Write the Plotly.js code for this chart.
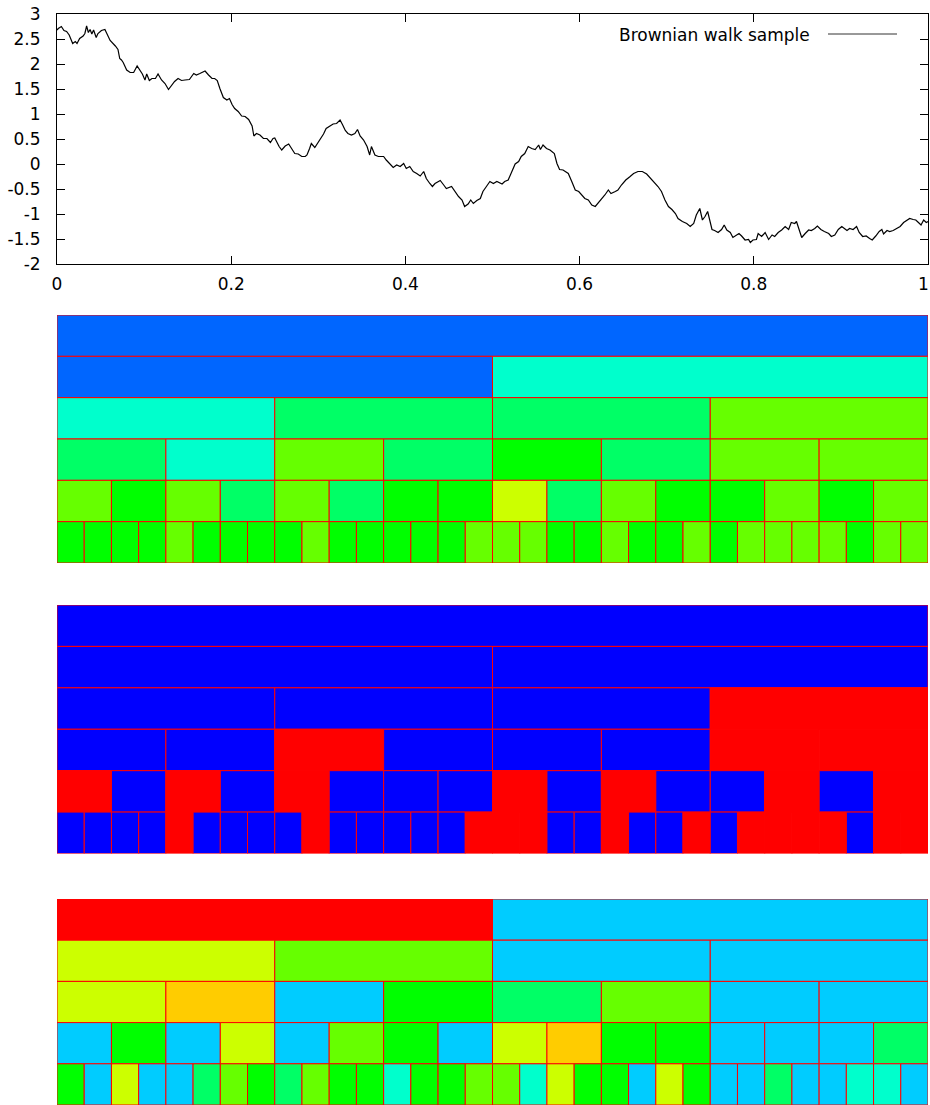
<!DOCTYPE html>
<html>
<head>
<meta charset="utf-8">
<script src="https://cdn.plot.ly/plotly-3.0.1.min.js"></script>
<style>html,body{margin:0;padding:0;background:#fff;}#chart{width:930px;height:1105px;}</style>
</head>
<body>
<div id="chart"></div>
<script>
// ---- Brownian walk sample ----
const walkX = [0.000,0.0015,0.005,0.008,0.011,0.014,0.018,0.021,0.023,0.026,0.030,0.032,0.034,0.036,0.038,0.040,0.042,0.045,0.047,0.051,0.055,0.058,0.061,0.067,0.070,0.072,0.074,0.076,0.080,0.084,0.088,0.092,0.095,0.098,0.101,0.103,0.106,0.109,0.113,0.116,0.120,0.124,0.128,0.132,0.135,0.139,0.143,0.147,0.152,0.157,0.160,0.164,0.170,0.174,0.178,0.181,0.184,0.187,0.191,0.195,0.198,0.201,0.204,0.208,0.212,0.216,0.220,0.224,0.226,0.229,0.233,0.237,0.241,0.245,0.248,0.250,0.252,0.255,
0.258,0.262,0.266,0.269,0.273,0.277,0.281,0.285,0.287,0.290,0.292,0.296,0.299,0.302,0.306,0.309,0.313,0.317,0.321,0.325,0.328,0.331,0.334,0.338,0.342,0.345,0.348,0.352,0.356,0.359,0.361,0.365,0.369,0.375,0.378,0.382,0.386,0.390,0.394,0.398,0.401,0.405,0.409,0.413,0.417,0.421,0.424,0.428,0.431,0.434,0.440,0.444,0.447,0.453,0.457,0.461,0.465,0.468,0.472,0.475,0.478,0.482,0.486,0.489,0.493,0.497,0.501,
0.505,0.511,0.514,0.518,0.522,0.526,0.530,0.533,0.537,0.541,0.545,0.549,0.553,0.555,0.558,0.562,0.566,0.571,0.574,0.577,0.581,0.587,0.591,0.595,0.599,0.602,0.606,0.610,0.614,0.618,0.621,0.625,0.629,0.633,0.636,0.641,0.644,0.648,0.653,0.658,0.662,0.667,0.672,0.677,0.682,0.687,0.690,0.694,0.698,0.702,0.706,0.710,0.713,0.718,0.723,0.727,0.731,0.734,
0.738,0.741,0.744,0.747,0.750,0.752,0.755,0.759,0.763,0.766,0.769,0.773,0.776,0.780,0.783,0.786,0.790,0.794,0.796,0.799,0.803,0.805,0.809,0.813,0.817,0.821,0.824,0.828,0.832,0.836,0.840,0.843,0.847,0.849,0.852,0.855,0.859,0.863,0.866,0.870,0.873,0.877,0.881,0.886,0.889,0.893,0.897,0.901,0.904,0.907,0.910,0.914,0.918,0.921,0.925,0.929,0.933,0.936,0.940,0.944,0.947,0.949,0.953,0.956,0.960,0.964,0.968,0.972,0.976,0.979,0.983,0.986,0.989,0.992,0.995,0.998,1.000];
const walkY = [2.68,2.71,2.75,2.67,2.65,2.58,2.41,2.45,2.41,2.51,2.56,2.61,2.76,2.63,2.69,2.60,2.68,2.53,2.61,2.67,2.69,2.58,2.47,2.36,2.29,2.11,2.08,2.03,1.88,1.83,1.83,1.96,1.88,1.80,1.68,1.80,1.67,1.71,1.71,1.80,1.68,1.61,1.49,1.58,1.65,1.71,1.67,1.68,1.69,1.81,1.78,1.81,1.86,1.78,1.71,1.71,1.67,1.51,1.33,1.28,1.31,1.19,1.11,1.05,0.96,0.95,0.89,0.76,0.56,0.61,0.58,0.51,0.51,0.43,0.51,0.52,0.45,0.35,
0.28,0.36,0.40,0.31,0.21,0.20,0.15,0.15,0.18,0.31,0.41,0.33,0.41,0.51,0.60,0.71,0.75,0.80,0.81,0.88,0.78,0.67,0.61,0.58,0.61,0.69,0.56,0.48,0.35,0.18,0.35,0.18,0.15,0.15,0.08,0.01,-0.07,-0.02,-0.05,0.01,-0.09,-0.05,-0.15,-0.19,-0.24,-0.15,-0.29,-0.39,-0.45,-0.39,-0.33,-0.42,-0.49,-0.45,-0.55,-0.65,-0.72,-0.85,-0.80,-0.72,-0.79,-0.73,-0.69,-0.55,-0.45,-0.35,-0.39,
-0.35,-0.40,-0.35,-0.32,-0.15,0.00,0.05,0.15,0.21,0.35,0.31,0.29,0.38,0.29,0.38,0.31,0.28,0.21,0.01,-0.11,-0.12,-0.19,-0.35,-0.52,-0.55,-0.62,-0.69,-0.72,-0.82,-0.85,-0.79,-0.72,-0.62,-0.52,-0.59,-0.55,-0.52,-0.42,-0.32,-0.25,-0.19,-0.15,-0.15,-0.20,-0.29,-0.39,-0.45,-0.55,-0.72,-0.85,-0.91,-0.99,-1.09,-1.15,-1.19,-1.25,-1.19,-1.02,
-0.89,-1.12,-1.05,-0.95,-1.19,-1.31,-1.33,-1.37,-1.31,-1.22,-1.32,-1.37,-1.47,-1.42,-1.39,-1.44,-1.52,-1.51,-1.57,-1.52,-1.51,-1.39,-1.45,-1.37,-1.51,-1.42,-1.45,-1.37,-1.32,-1.25,-1.31,-1.17,-1.19,-1.15,-1.31,-1.47,-1.39,-1.32,-1.33,-1.29,-1.24,-1.31,-1.35,-1.39,-1.45,-1.42,-1.31,-1.25,-1.29,-1.33,-1.29,-1.31,-1.25,-1.37,-1.45,-1.44,-1.49,-1.52,-1.44,-1.35,-1.31,-1.40,-1.33,-1.35,-1.33,-1.29,-1.25,-1.17,-1.12,-1.09,-1.11,-1.12,-1.17,-1.22,-1.12,-1.17,-1.15];
const walkName = "Brownian walk sample";
const xTicks = [0, 0.2, 0.4, 0.6, 0.8, 1];
const xTickText = ["0", "0.2", "0.4", "0.6", "0.8", "1"];
const yTicks = [-2, -1.5, -1, -0.5, 0, 0.5, 1, 1.5, 2, 2.5, 3];
const yTickText = ["-2", "-1.5", "-1", "-0.5", "0", "0.5", "1", "1.5", "2", "2.5", "3"];

// ---- colour levels ----
const palette = ["#0000ff","#0066ff","#00ccff","#00ffcc","#00ff66","#00ff00","#66ff00","#ccff00","#ffcc00","#ff0000"];

// panel 2: dyadic levels (rows of 1,2,4,8,16,32 cells)
const levelsA = [
  [1],
  [1,3],
  [3,4,4,6],
  [4,3,6,4,5,4,6,6],
  [6,5,6,4,6,4,5,5,7,4,6,5,5,6,5,6],
  [5,5,5,5,6,5,5,5,5,6,5,5,5,5,5,6,6,6,5,5,6,5,5,6,5,6,6,6,6,5,6,6]
];
// panel 3: sign (0 = blue, 9 = red)
const levelsB = [
  [0],
  [0,0],
  [0,0,0,9],
  [0,0,9,0,0,0,9,9],
  [9,0,9,0,9,0,0,0,9,0,9,0,0,9,0,9],
  [0,0,0,0,9,0,0,0,0,9,0,0,0,0,0,9,9,9,0,0,9,0,0,9,0,9,9,9,9,0,9,9]
];
// panel 4: rows of 2,4,8,16,32 cells
const levelsC = [
  [9,2],
  [7,6,2,2],
  [7,8,2,5,4,6,2,2],
  [2,5,2,7,2,6,5,2,7,8,5,5,2,2,2,4],
  [5,2,7,2,2,4,6,5,4,6,5,5,3,5,5,6,6,3,7,5,5,2,7,5,2,2,4,2,2,3,3,2]
];

function cellTrace(levels, xa, ya) {
  const base = [], len = [], row = [], col = [];
  levels.forEach((r, i) => {
    const n = r.length;
    r.forEach((v, k) => {
      base.push(k / n); len.push(1 / n); row.push(i); col.push(palette[v]);
    });
  });
  return {
    type: "bar", orientation: "h", base: base, x: len, y: row, width: 1,
    xaxis: xa, yaxis: ya, showlegend: false, hoverinfo: "skip",
    marker: { color: col, line: { color: "#ff0000", width: 1 } }
  };
}

const H = 1105;
const dom = (top, bot) => [1 - bot / H, 1 - top / H];

const traces = [
  { type: "scatter", mode: "lines", x: walkX, y: walkY, name: walkName,
    line: { color: "#000000", width: 1.2 }, showlegend: false, xaxis: "x", yaxis: "y" },
  cellTrace(levelsA, "x2", "y2"),
  cellTrace(levelsB, "x3", "y3"),
  cellTrace(levelsC, "x4", "y4")
];

const fontFam = "DejaVu Sans, Verdana, sans-serif";
const tf = { family: fontFam, size: 17, color: "#000" };
const hidden = (r) => ({ range: r, visible: false, fixedrange: true });
const lastIdx = xTicks.length - 1;

const layout = {
  width: 930, height: 1105,
  margin: { l: 57, r: 2, t: 0, b: 0 },
  paper_bgcolor: "#ffffff", plot_bgcolor: "#ffffff",
  font: tf,
  showlegend: false,
  barmode: "overlay",
  xaxis: {
    domain: [0, 1], range: [0, 1], anchor: "y",
    tickmode: "array", tickvals: xTicks,
    ticktext: xTickText.map((t, i) => (i === lastIdx ? "" : t)),
    ticks: "inside", ticklen: 8, tickwidth: 1, tickcolor: "#000",
    showline: true, linecolor: "#000", linewidth: 1, mirror: "ticks",
    showgrid: false, zeroline: false, ticklabelstandoff: 5,
    ticklabeloverflow: "allow", tickfont: tf
  },
  yaxis: {
    domain: dom(14, 264), range: [-2, 3], anchor: "x",
    tickmode: "array", tickvals: yTicks, ticktext: yTickText,
    ticks: "inside", ticklen: 8, tickwidth: 1, tickcolor: "#000",
    showline: true, linecolor: "#000", linewidth: 1, mirror: "ticks",
    showgrid: false, zeroline: false, ticklabelstandoff: 12,
    ticklabeloverflow: "allow", tickfont: tf
  },
  xaxis2: Object.assign(hidden([0, 1]), { anchor: "y2" }),
  yaxis2: Object.assign(hidden([5.5, -0.5]), { anchor: "x2", domain: dom(315, 563) }),
  xaxis3: Object.assign(hidden([0, 1]), { anchor: "y3" }),
  yaxis3: Object.assign(hidden([5.5, -0.5]), { anchor: "x3", domain: dom(605, 853.5) }),
  xaxis4: Object.assign(hidden([0, 1]), { anchor: "y4" }),
  yaxis4: Object.assign(hidden([4.5, -0.5]), { anchor: "x4", domain: dom(899, 1105) }),
  annotations: [
    { xref: "paper", yref: "paper", x: (812 - 57) / 871, y: 1 - 35 / H,
      xanchor: "right", yanchor: "middle", showarrow: false, text: walkName,
      font: tf },
    // last x tick label, nudged left so it stays inside the picture
    { xref: "x", yref: "paper", x: xTicks[lastIdx], y: 1 - 284 / H, xshift: -5,
      xanchor: "center", yanchor: "middle", showarrow: false,
      text: xTickText[lastIdx], font: tf }
  ],
  shapes: [
    { type: "line", xref: "paper", yref: "paper",
      x0: (828 - 57) / 871, x1: (897 - 57) / 871, y0: 1 - 34 / H, y1: 1 - 34 / H,
      line: { color: "#333", width: 1 } }
  ]
};

Plotly.newPlot("chart", traces, layout, { staticPlot: true, displayModeBar: false });
</script>
</body>
</html>
